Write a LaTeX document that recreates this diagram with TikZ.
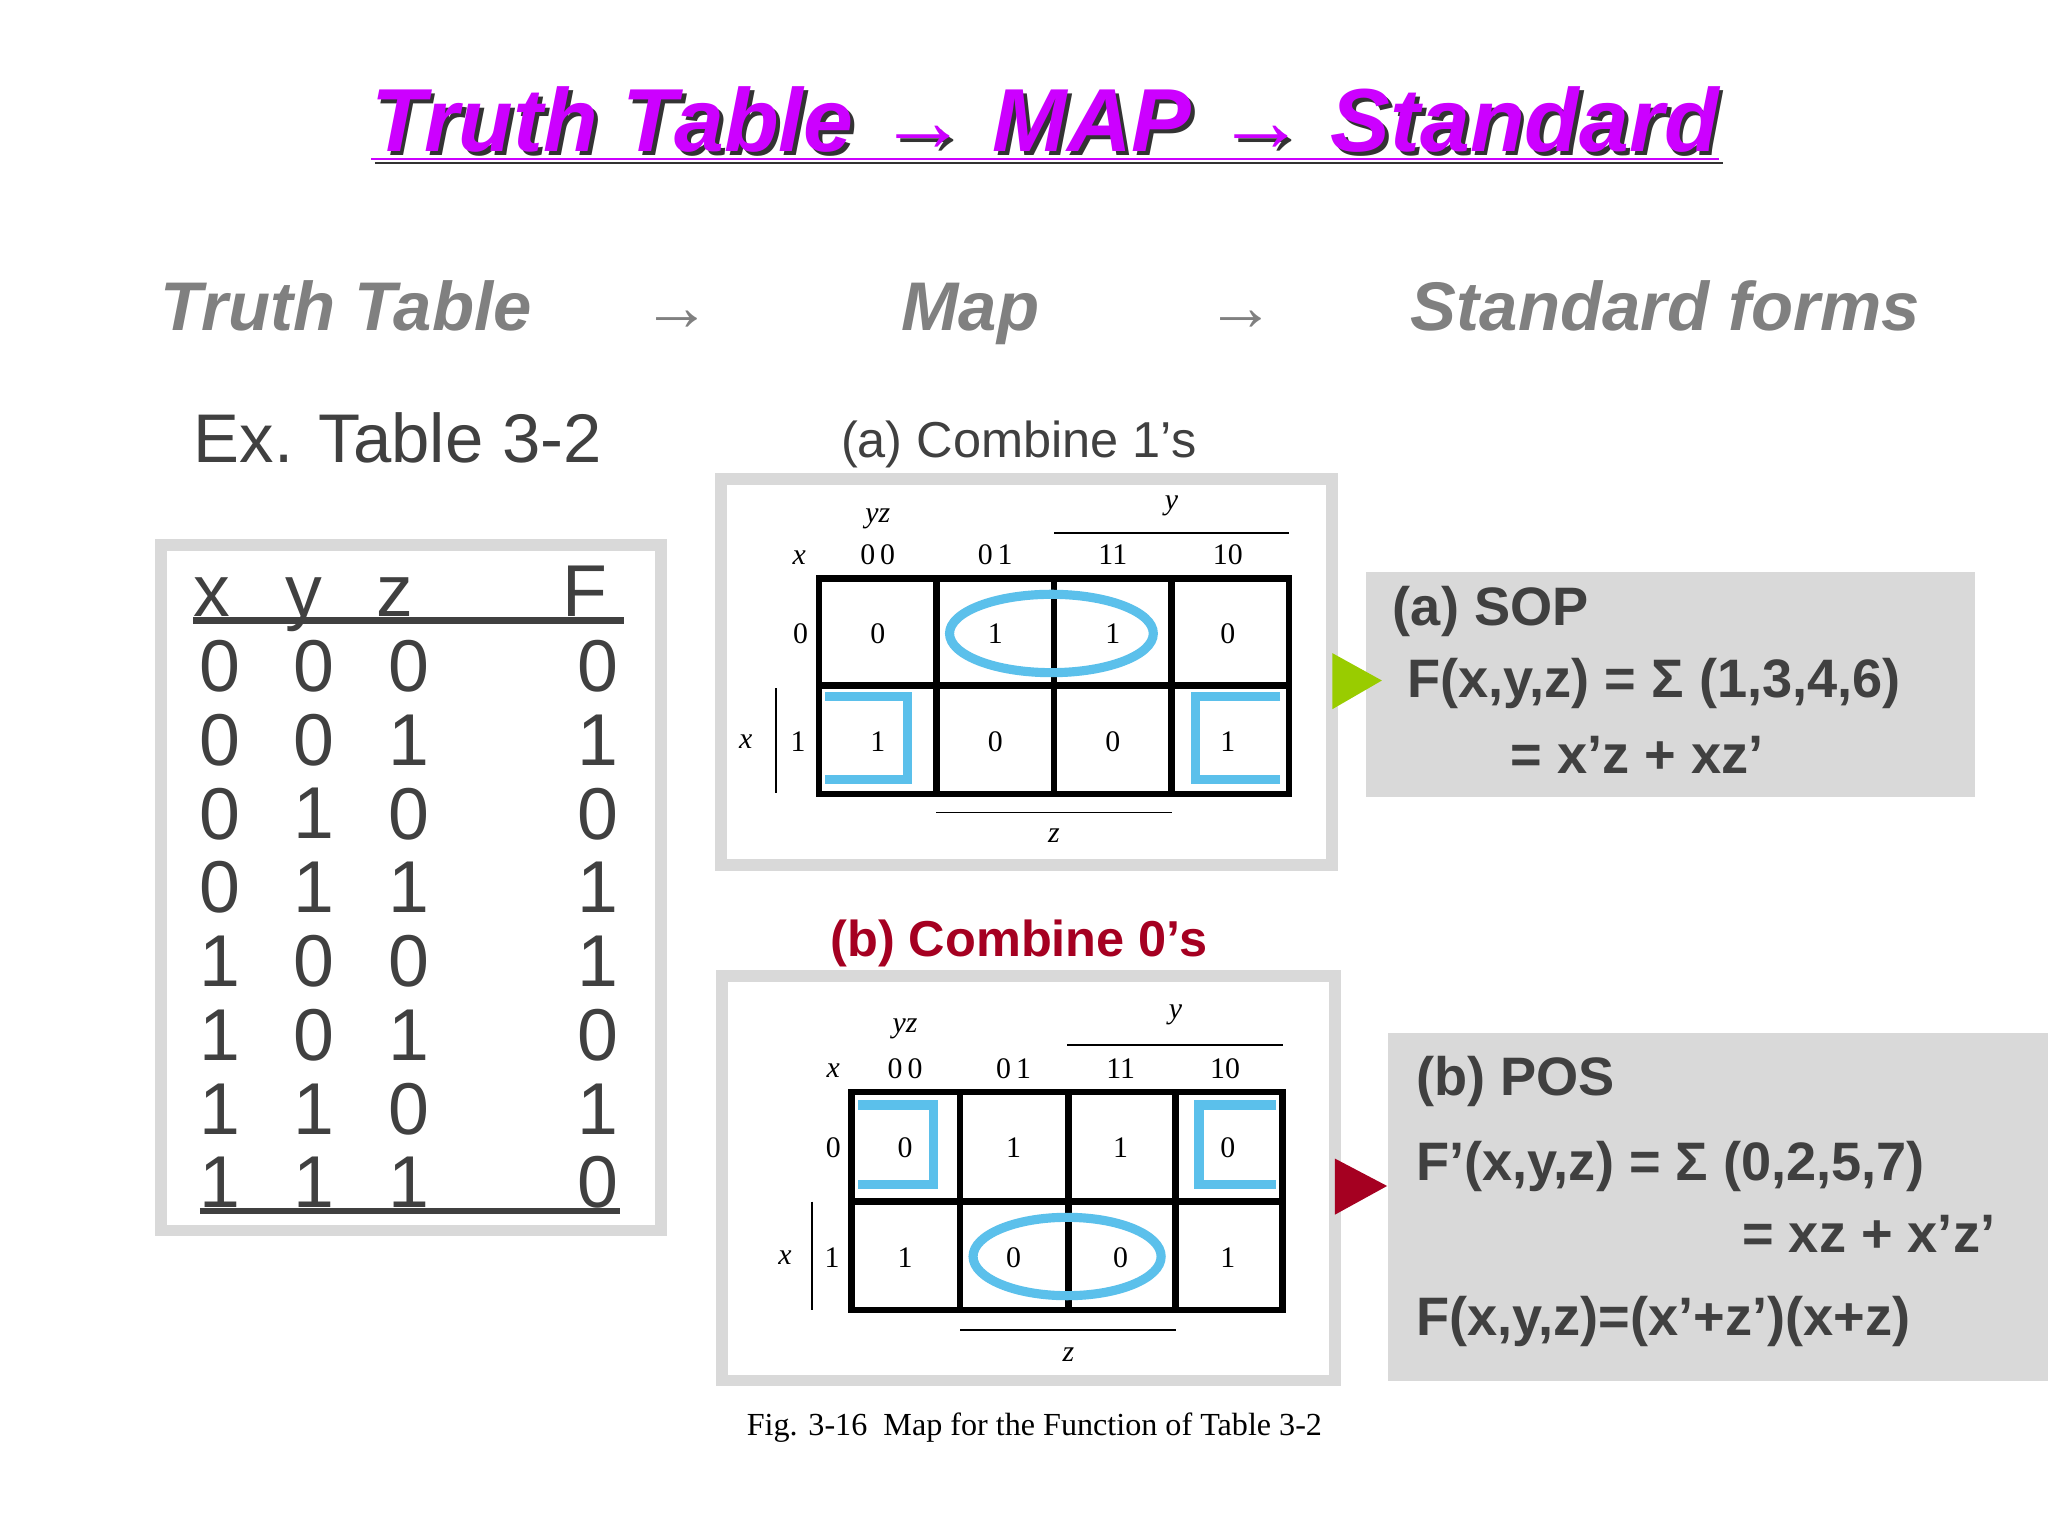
\documentclass[tikz,border=0pt]{standalone}
\usepackage{fontspec}
\setmainfont{Liberation Sans}
\newfontfamily\tms{Liberation Serif}
\usetikzlibrary{shapes.geometric}
\definecolor{tg}{HTML}{404040}
\definecolor{bx}{HTML}{D9D9D9}
\definecolor{mag}{HTML}{CC00FF}
\definecolor{dred}{HTML}{A50021}
\definecolor{cy}{HTML}{5BC0EB}
\definecolor{lgreen}{HTML}{99CC00}
\tikzset{
 dig/.style={font=\fontsize{16}{16}\selectfont,text=tg,inner sep=0pt},
 sm/.style={font=\tms\fontsize{6.5}{7}\selectfont},
 smi/.style={font=\tms\itshape\fontsize{6.5}{7}\selectfont},
 frm/.style={draw=bx,line width=0.9mm},
 loop/.style={draw=cy,line width=0.7mm},
 ftxt/.style={anchor=west,font=\bfseries\fontsize{11.8}{13}\selectfont,text=tg},
 hd/.style={anchor=base,font=\bfseries\itshape\fontsize{15}{16}\selectfont,text=gray},
}
\begin{document}
\begin{tikzpicture}[x=0.1mm,y=-0.1mm]
\useasboundingbox[fill=white] (0,0) rectangle (1568,1176);
% title
\node[font=\bfseries\itshape\fontsize{19.5}{22}\selectfont,text=black!80] at (803,98) {\underline{Truth Table → MAP → Standard}};
\node (title)[font=\bfseries\itshape\fontsize{19.5}{22}\selectfont,text=mag] at (800,95) {\underline{Truth Table → MAP → Standard}};
% row 2
\node (h1)[hd] at (265,253) {Truth Table};
\node (a1)[hd,font=\fontsize{15}{16}\selectfont] at (518,253) {→};
\node (h2)[hd] at (743,253) {Map};
\node (a2)[hd,font=\fontsize{15}{16}\selectfont] at (950,253) {→};
\node (h3)[hd] at (1275,253) {Standard forms};
\node (ex)[anchor=west,font=\fontsize{15}{18}\selectfont,text=tg] at (136,335) {Ex. Table 3-2};
% truth table
\draw[frm] (123,417) rectangle (506,942);
\foreach \t/\x in {x/162,y/233,z/302,F/448} \node[dig,anchor=base] at (\x,472) {\t};
\draw[tg,line width=0.5mm] (148,475) -- (478,475);
\draw[tg,line width=0.5mm] (153,927) -- (475,927);
\foreach \a/\b/\c/\f [count=\i] in {0/0/0/0,0/0/1/1,0/1/0/0,0/1/1/1,1/0/0/1,1/0/1/0,1/1/0/1,1/1/1/0}{
 \pgfmathsetmacro\yy{510+56.5*(\i-1)}
 \node[dig] at (168,\yy) {\a};
 \node[dig] at (240,\yy) {\b};
 \node[dig] at (313,\yy) {\c};
 \node[dig] at (458,\yy) {\f};
}
% map a
\node (la)[font=\fontsize{11}{12}\selectfont,text=tg] at (780,340) {(a) Combine 1’s};
\draw[frm] (552,367) rectangle (1020,662);
\draw[line width=0.5mm] (627,443) rectangle (987,608);
\foreach \x in {717,807,897} \draw[line width=0.5mm] (\x,443) -- (\x,608);
\draw[line width=0.5mm] (627,525) -- (987,525);
\node[smi] at (672,397) {yz}; \node[smi] at (612,427) {x};
\foreach \t/\x in {0\,0/672,0\,1/762,11/852,10/940} \node[sm] at (\x,425) {\t};
\node[smi] at (897,387) {y}; \draw (807,408) -- (987,408);
\node[sm] at (613,485) {0}; \node[sm] at (611,568) {1}; \node[smi] at (571,568) {x};
\draw (594,527) -- (594,607);
\node[smi] at (807,640) {z}; \draw (717,622) -- (897,622);
\foreach \v/\x in {0/672,1/762,1/852,0/940} \node[sm] at (\x,485) {\v};
\foreach \v/\x in {1/672,0/762,0/852,1/940} \node[sm] at (\x,568) {\v};
\draw[loop] (805,485) ellipse (78 and 30);
\draw[loop] (632,533) -- (695,533) -- (695,597) -- (632,597);
\draw[loop] (980,533) -- (915,533) -- (915,597) -- (980,597);
% map b
\node (lb)[font=\bfseries\fontsize{11}{12}\selectfont,text=dred] at (780,722) {(b) Combine 0’s};
\draw[frm] (553,747) rectangle (1022,1057);
\draw[line width=0.5mm] (652,836) rectangle (982,1003);
\foreach \x in {735,818,900} \draw[line width=0.5mm] (\x,836) -- (\x,1003);
\draw[line width=0.5mm] (652,920) -- (982,920);
\node[smi] at (693,788) {yz}; \node[smi] at (638,820) {x};
\foreach \t/\x in {0\,0/693,0\,1/776,11/858,10/938} \node[sm] at (\x,818) {\t};
\node[smi] at (900,777) {y}; \draw (817,800) -- (982,800);
\node[sm] at (638,879) {0}; \node[sm] at (637,963) {1}; \node[smi] at (601,963) {x};
\draw (622,920) -- (622,1003);
\node[smi] at (818,1037) {z}; \draw (735,1018) -- (900,1018);
\foreach \v/\x in {0/693,1/776,1/858,0/940} \node[sm] at (\x,879) {\v};
\foreach \v/\x in {1/693,0/776,0/858,1/940} \node[sm] at (\x,963) {\v};
\draw[loop] (817,962) ellipse (72 and 30);
\draw[loop] (657,846) -- (715,846) -- (715,907) -- (657,907);
\draw[loop] (977,846) -- (918,846) -- (918,907) -- (977,907);
\node (cap)[font=\tms\fontsize{7}{8}\selectfont] at (792,1093) {Fig. 3-16\ \ Map for the Function of Table 3-2};
% SOP
\fill[bx] (1046,438) rectangle (1512,610);
\fill[lgreen] (1020,500) -- (1058,521) -- (1020,543) -- cycle;
\node (s1)[ftxt] at (1054,468) {(a) SOP};
\node (s2)[ftxt] at (1065,523) {F(x,y,z) = Σ (1,3,4,6)};
\node (s3)[ftxt] at (1144,578) {= x’z + xz’};
% POS
\fill[bx] (1063,791) rectangle (1568,1057);
\fill[dred] (1022,887) -- (1062,908) -- (1022,930) -- cycle;
\node (p1)[ftxt] at (1072,828) {(b) POS};
\node (p2)[ftxt] at (1072,893) {F’(x,y,z) = Σ (0,2,5,7)};
\node (p3)[ftxt,anchor=east] at (1540,945) {= xz + x’z’};
\node (p4)[ftxt] at (1072,1012) {F(x,y,z)=(x’+z’)(x+z)};
\end{tikzpicture}
\end{document}
